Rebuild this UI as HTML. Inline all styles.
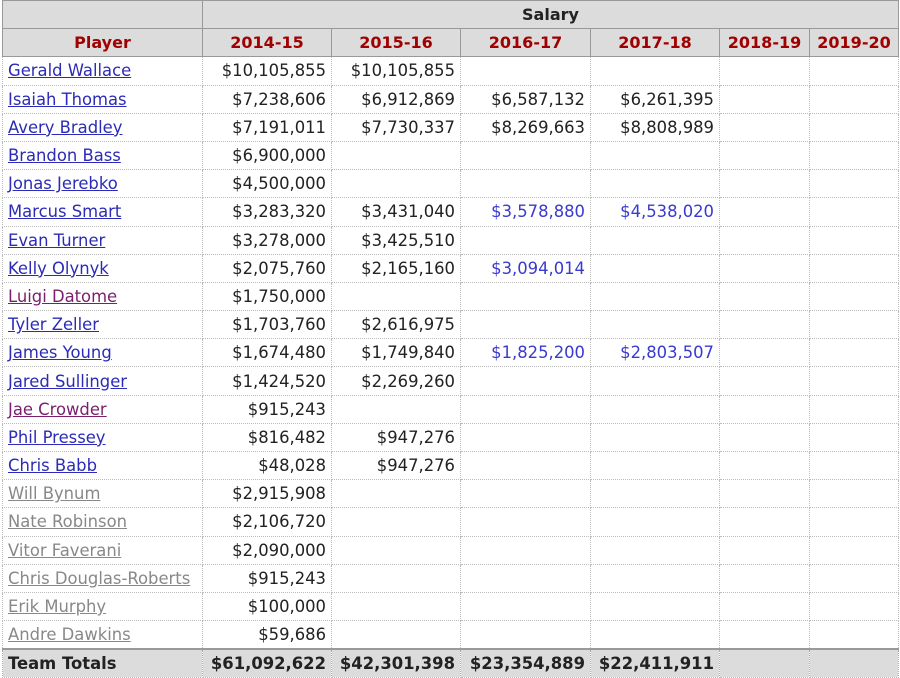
<!DOCTYPE html>
<html><head><meta charset="utf-8"><style>
body{margin:0;background:#fff;width:900px;height:675px;overflow:hidden}
table{border-collapse:collapse;table-layout:fixed;position:absolute;left:2px;top:0px;font-family:"DejaVu Sans","Liberation Sans",sans-serif;font-size:16.4px}
td,th{padding:0 5px;white-space:nowrap;overflow:hidden;border:1px dotted #bbb}
tr{height:28.2px}
thead th{background:#dcdcdc;border:1px solid #999;font-weight:bold;color:#a00000;font-size:16px}
thead tr:first-child th{color:#222;height:27px}
td.n{text-align:right;color:#222}
td.b{color:#3a3ad0}
a{color:#2b2bb8;text-decoration:underline}
a.v{color:#7a1f6e}
a.g{color:#888}
tfoot td{background:#dcdcdc;font-weight:bold;color:#222;border-top:2px solid #999;border-left:1px dotted #aaa;border-right:1px dotted #aaa}
</style></head><body>
<table>
<colgroup><col style="width:200px"><col style="width:129px"><col style="width:129px"><col style="width:130px"><col style="width:129px"><col style="width:90px"><col style="width:89px"></colgroup>
<thead>
<tr><th></th><th colspan="6">Salary</th></tr>
<tr><th>Player</th><th>2014-15</th><th>2015-16</th><th>2016-17</th><th>2017-18</th><th>2018-19</th><th>2019-20</th></tr>
</thead>
<tbody id="tb"></tbody>
<tfoot><tr><td>Team Totals</td><td class="n">$61,092,622</td><td class="n">$42,301,398</td><td class="n">$23,354,889</td><td class="n">$22,411,911</td><td></td><td></td></tr></tfoot>
</table>
<script>
const players=["Gerald Wallace","Isaiah Thomas","Avery Bradley","Brandon Bass","Jonas Jerebko","Marcus Smart","Evan Turner","Kelly Olynyk","Luigi Datome","Tyler Zeller","James Young","Jared Sullinger","Jae Crowder","Phil Pressey","Chris Babb","Will Bynum","Nate Robinson","Vitor Faverani","Chris Douglas-Roberts","Erik Murphy","Andre Dawkins"];
const linkStyle=["","","","","","","","","v","","","","v","","","g","g","g","g","g","g"];
const s1415=["$10,105,855","$7,238,606","$7,191,011","$6,900,000","$4,500,000","$3,283,320","$3,278,000","$2,075,760","$1,750,000","$1,703,760","$1,674,480","$1,424,520","$915,243","$816,482","$48,028","$2,915,908","$2,106,720","$2,090,000","$915,243","$100,000","$59,686"];
const s1516=["$10,105,855","$6,912,869","$7,730,337","","","$3,431,040","$3,425,510","$2,165,160","","$2,616,975","$1,749,840","$2,269,260","","$947,276","$947,276","","","","","",""];
const s1617=["","$6,587,132","$8,269,663","","","$3,578,880","","$3,094,014","","","$1,825,200","","","","","","","","","",""];
const s1718=["","$6,261,395","$8,808,989","","","$4,538,020","","","","","$2,803,507","","","","","","","","","",""];
const blue1617=[0,0,0,0,0,1,0,1,0,0,1,0,0,0,0,0,0,0,0,0,0];
const blue1718=[0,0,0,0,0,1,0,0,0,0,1,0,0,0,0,0,0,0,0,0,0];
const tb=document.getElementById('tb');
players.forEach((p,i)=>{
  const tr=document.createElement('tr');
  
  
  const td=document.createElement('td');
  
  
  const a=document.createElement('a');
  a.textContent=p;a.className=linkStyle[i];
  
  
  td.appendChild(a);tr.appendChild(td);
  [[s1415[i],0],[s1516[i],0],[s1617[i],blue1617[i]],[s1718[i],blue1718[i]],["",0],["",0]].forEach(([v,b])=>{
    const c=document.createElement('td');
    c.className='n'+(b?' b':'');
    c.textContent=v;
    
    
    tr.appendChild(c);
  });
  tb.appendChild(tr);
});
</script>
</body></html>
